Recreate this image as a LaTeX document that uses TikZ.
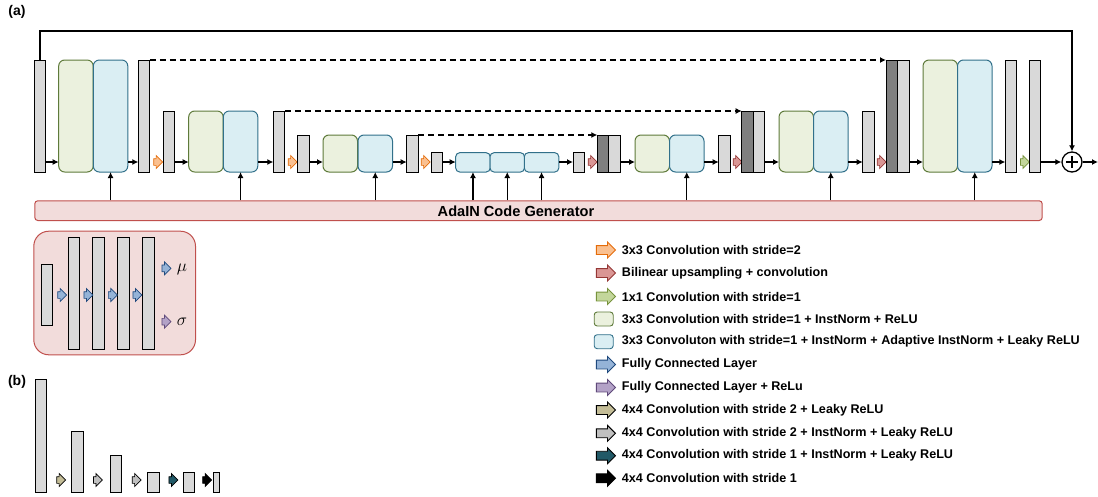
\documentclass[tikz,border=0pt]{standalone}
\usepackage{fontspec}
\setmainfont{Liberation Sans}
\usepackage{xcolor}
\usepackage{tikz}
\usetikzlibrary{arrows.meta,shapes.arrows}
\definecolor{barfill}{HTML}{D9D9D9}
\definecolor{bardark}{HTML}{7F7F7F}
\definecolor{convfill}{HTML}{EBF1DE}
\definecolor{convline}{HTML}{5E7A3A}
\definecolor{adafill}{HTML}{DAEEF3}
\definecolor{adaline}{HTML}{31708A}
\definecolor{genfill}{HTML}{F2DCDB}
\definecolor{genline}{HTML}{C0504D}
\definecolor{downfill}{HTML}{FAC090}
\definecolor{downline}{HTML}{E46C0A}
\definecolor{upfill}{HTML}{DA9694}
\definecolor{upline}{HTML}{953735}
\definecolor{onefill}{HTML}{C3D69B}
\definecolor{oneline}{HTML}{77933C}
\definecolor{fcfill}{HTML}{95B3D7}
\definecolor{fcline}{HTML}{1F497D}
\definecolor{relufill}{HTML}{B3A2C7}
\definecolor{reluline}{HTML}{5F497A}
\definecolor{tanfill}{HTML}{C4BD97}
\definecolor{grayfill}{HTML}{C0C0C0}
\definecolor{tealfill}{HTML}{215967}

\begin{document}
\begin{tikzpicture}[x=1pt,y=-1pt,
    bar/.style={draw,fill=barfill,line width=1pt,minimum width=11.5pt,
      inner sep=0pt,outer sep=0pt,anchor=south west},
    dbar/.style={bar,fill=bardark},
    cblock/.style={draw=convline,fill=convfill,rounded corners=6pt,line width=1pt,
      minimum width=34.5pt,inner sep=0pt,outer sep=0pt,anchor=south west},
    ablock/.style={cblock,draw=adaline,fill=adafill},
    sarrow/.style={single arrow,draw,line width=.7pt,inner sep=0pt,inner ysep=3pt,
      single arrow head extend=3.2pt,minimum height=9pt},
    larrow/.style={single arrow,draw,line width=.9pt,inner sep=0pt,inner ysep=4pt,
      single arrow head extend=3.5pt,minimum height=19pt},
    lbox/.style={draw,rounded corners=3pt,line width=.9pt,minimum width=19pt,
      minimum height=14pt,inner sep=0pt},
    conn/.style={-{Latex[length=6pt,width=6pt]},line width=1.4pt},
    skipdash/.style={conn,dash pattern=on 6pt off 4pt},
    legtext/.style={anchor=west,font=\bfseries\fontsize{12.6}{14}\selectfont,inner sep=0pt},
    panel/.style={font=\bfseries\fontsize{14}{16}\selectfont,inner sep=0pt}]
  \useasboundingbox (0,0) rectangle (1098,496);
  \coordinate (mid) at (0,162);
  \coordinate (top) at (0,31);
  \node[panel] (pa) at (17,12) {(a)};
  \node[panel] (pb) at (17,382) {(b)};

  % encoder
  \node[bar,minimum height=112pt] (b1) at (34.3,172) {};
  \node[cblock,minimum height=112pt] (g1) at (58.7,172) {};
  \node[ablock,minimum height=112pt] (u1) at (93.3,172) {};
  \node[bar,minimum height=112pt] (b2) at (138.3,172) {};
  \node[sarrow,fill=downfill,draw=downline] (o1) at (156.5,162) {};
  \node[bar,minimum height=61pt] (b3) at (163.3,172) {};
  \node[cblock,minimum height=61pt] (g2) at (188.7,172) {};
  \node[ablock,minimum height=61pt] (u2) at (223.3,172) {};
  \node[bar,minimum height=61pt] (b4) at (273.3,172) {};
  \node[sarrow,fill=downfill,draw=downline] (o2) at (291,162) {};
  \node[bar,minimum height=37pt] (b5) at (297.7,172) {};
  \node[cblock,minimum height=37pt] (g3) at (323,172) {};
  \node[ablock,minimum height=37pt] (u3) at (358,172) {};
  \node[bar,minimum height=37pt] (b6) at (406.7,172) {};
  \node[sarrow,fill=downfill,draw=downline] (o3) at (424,162) {};
  \node[bar,minimum height=19.3pt] (b7) at (431,172) {};

  % bottleneck
  \node[ablock,minimum height=19.3pt,rounded corners=4pt] (u4a) at (455.7,172) {};
  \node[ablock,minimum height=19.3pt,rounded corners=4pt] (u4b) at (490,172) {};
  \node[ablock,minimum height=19.3pt,rounded corners=4pt] (u4c) at (524.3,172) {};

  % decoder
  \node[bar,minimum height=19.3pt] (b8) at (573,172) {};
  \node[sarrow,fill=upfill,draw=upline] (r1) at (591,162) {};
  \node[dbar,minimum height=37pt] (d1) at (597.3,172) {};
  \node[bar,minimum height=37pt] (c1) at (608.8,172) {};
  \node[cblock,minimum height=37pt] (g4) at (635,172) {};
  \node[ablock,minimum height=37pt] (u5) at (669.5,172) {};
  \node[bar,minimum height=37pt] (b9) at (718.7,172) {};
  \node[sarrow,fill=upfill,draw=upline] (r2) at (736,162) {};
  \node[dbar,minimum height=61pt] (d2) at (741.7,172) {};
  \node[bar,minimum height=61pt] (c2) at (753.2,172) {};
  \node[cblock,minimum height=61pt] (g5) at (779,172) {};
  \node[ablock,minimum height=61pt] (u6) at (813.5,172) {};
  \node[bar,minimum height=61pt] (b10) at (862.7,172) {};
  \node[sarrow,fill=upfill,draw=upline] (r3) at (880,162) {};
  \node[dbar,minimum height=112pt] (d3) at (886,172) {};
  \node[bar,minimum height=112pt] (c3) at (897.5,172) {};
  \node[cblock,minimum height=112pt] (g6) at (923,172) {};
  \node[ablock,minimum height=112pt] (u7) at (957.5,172) {};
  \node[bar,minimum height=112pt] (b11) at (1005.3,172) {};
  \node[sarrow,fill=onefill,draw=oneline] (gr) at (1023.3,162) {};
  \node[bar,minimum height=112pt] (b12) at (1029.3,172) {};
  \node[draw,circle,line width=1.3pt,minimum size=20pt,inner sep=0pt] (plus) at (1072,162) {};
  \draw[line width=2pt] (plus.center) ++(-6,0) -- ++(12,0) (plus.center) ++(0,-6) -- ++(0,12);
  \coordinate (out) at (1098,162);

  \draw[conn] (b1.east|-mid) -- (g1.west|-mid);
  \draw[conn] (u1.east|-mid) -- (b2.west|-mid);
  \draw[conn] (b3.east|-mid) -- (g2.west|-mid);
  \draw[conn] (u2.east|-mid) -- (b4.west|-mid);
  \draw[conn] (b5.east|-mid) -- (g3.west|-mid);
  \draw[conn] (u3.east|-mid) -- (b6.west|-mid);
  \draw[conn] (b7.east|-mid) -- (u4a.west|-mid);
  \draw[conn] (u4c.east|-mid) -- (b8.west|-mid);
  \draw[conn] (c1.east|-mid) -- (g4.west|-mid);
  \draw[conn] (u5.east|-mid) -- (b9.west|-mid);
  \draw[conn] (c2.east|-mid) -- (g5.west|-mid);
  \draw[conn] (u6.east|-mid) -- (b10.west|-mid);
  \draw[conn] (c3.east|-mid) -- (g6.west|-mid);
  \draw[conn] (u7.east|-mid) -- (b11.west|-mid);
  \draw[conn] (b12.east|-mid) -- (plus.west);
  \draw[conn] (plus.east) -- (out);

  % skips
  \draw[skipdash] (b2.north east) -- (d3.north west);
  \draw[skipdash] (b4.north east) -- (d2.north west);
  \draw[skipdash] (b6.north east) -- (d1.north west);
  \draw[conn] (b1.north) |- (top-|plus) -- (plus.north);

  % code generator
  \node[draw=genline,fill=genfill,rounded corners=3pt,line width=1pt,minimum width=1007.4pt,
    minimum height=19.7pt,inner sep=0pt,anchor=north west] (gen) at (34.3,200.3) {};
  \node[font=\bfseries\fontsize{14.6}{16}\selectfont,inner sep=0pt] (gentxt) at (516,211)
    {AdaIN Code Generator};
  \foreach \u in {u1,u2,u3,u4a,u4b,u4c,u5,u6,u7}
    \draw[conn] (\u.south|-gen.north) -- (\u.south);

  % generator detail
  \node[draw=genline,fill=genfill,rounded corners=15pt,line width=1pt,minimum width=161.7pt,
    minimum height=123.6pt,inner sep=0pt,anchor=north west] (enc) at (33.3,230.7) {};
  \node[bar,minimum height=61pt] (e0) at (41,325) {};
  \node[bar,minimum height=111.7pt] (e1) at (68.3,349) {};
  \node[bar,minimum height=111.7pt] (e2) at (92.7,349) {};
  \node[bar,minimum height=111.7pt] (e3) at (117.7,349) {};
  \node[bar,minimum height=111.7pt] (e4) at (142.7,349) {};
  \node[sarrow,fill=fcfill,draw=fcline] (f1) at (60.5,295) {};
  \node[sarrow,fill=fcfill,draw=fcline] (f2) at (86.8,295) {};
  \node[sarrow,fill=fcfill,draw=fcline] (f3) at (111.2,295) {};
  \node[sarrow,fill=fcfill,draw=fcline] (f4) at (135.8,295) {};
  \node[sarrow,fill=fcfill,draw=fcline] (fmu) at (164.8,268.3) {};
  \node[sarrow,fill=relufill,draw=reluline] (fsig) at (164.8,321.7) {};
  \node[font=\fontsize{17}{17}\selectfont] (mu) at (182,269) {$\mu$};
  \node[font=\fontsize{17}{17}\selectfont] (sig) at (182,321.5) {$\sigma$};

  % discriminator
  \node[bar,minimum height=112.3pt] (p1) at (35,492) {};
  \node[sarrow,fill=tanfill,draw=black] (q1) at (59.5,480) {};
  \node[bar,minimum height=61pt] (p2) at (71.7,492) {};
  \node[sarrow,fill=grayfill,draw=black] (q2) at (96.3,480) {};
  \node[bar,minimum height=37pt] (p3) at (110,492) {};
  \node[sarrow,fill=grayfill,draw=black] (q3) at (135,480) {};
  \node[bar,minimum height=19.7pt] (p4) at (147.7,492) {};
  \node[sarrow,fill=tealfill,draw=black] (q4) at (171.8,480) {};
  \node[bar,minimum height=19.7pt] (p5) at (183.3,492) {};
  \node[sarrow,fill=black,draw=black] (q5) at (205.5,480) {};
  \node[bar,minimum height=19.7pt,minimum width=6pt] (p6) at (213.3,492) {};

  % legend
  \node[larrow,fill=downfill,draw=downline] (k1) at (603.7,250) {};
  \node[legtext] (t1) at (621.7,250) {3x3 Convolution with stride=2};
  \node[larrow,fill=upfill,draw=upline] (k2) at (603.7,273) {};
  \node[legtext] (t2) at (621.7,273) {Bilinear upsampling + convolution};
  \node[larrow,fill=onefill,draw=oneline] (k3) at (603.7,296.5) {};
  \node[legtext] (t3) at (621.7,296.5) {1x1 Convolution with stride=1};
  \node[lbox,fill=convfill,draw=convline] (k4) at (603.7,319) {};
  \node[legtext] (t4) at (621.7,319) {3x3 Convolution with stride=1 + InstNorm + ReLU};
  \node[lbox,fill=adafill,draw=adaline] (k5) at (603.7,341.7) {};
  \node[legtext] (t5) at (621.7,341.7)
    {3x3 Convoluton with stride=1 + InstNorm + Adaptive InstNorm + Leaky ReLU};
  \node[larrow,fill=fcfill,draw=fcline] (k6) at (603.7,364.5) {};
  \node[legtext] (t6) at (621.7,364.5) {Fully Connected Layer};
  \node[larrow,fill=relufill,draw=reluline] (k7) at (603.7,387.5) {};
  \node[legtext] (t7) at (621.7,387.5) {Fully Connected Layer + ReLu};
  \node[larrow,fill=tanfill,draw=black] (k8) at (603.7,410) {};
  \node[legtext] (t8) at (621.7,410) {4x4 Convolution with stride 2 + Leaky ReLU};
  \node[larrow,fill=grayfill,draw=black] (k9) at (603.7,433.3) {};
  \node[legtext] (t9) at (621.7,433.3) {4x4 Convolution with stride 2 + InstNorm + Leaky ReLU};
  \node[larrow,fill=tealfill,draw=black] (k10) at (603.7,455.7) {};
  \node[legtext] (t10) at (621.7,455.7) {4x4 Convolution with stride 1 + InstNorm + Leaky ReLU};
  \node[larrow,fill=black,draw=black] (k11) at (603.7,478.3) {};
  \node[legtext] (t11) at (621.7,478.3) {4x4 Convolution with stride 1};
\end{tikzpicture}
\end{document}
